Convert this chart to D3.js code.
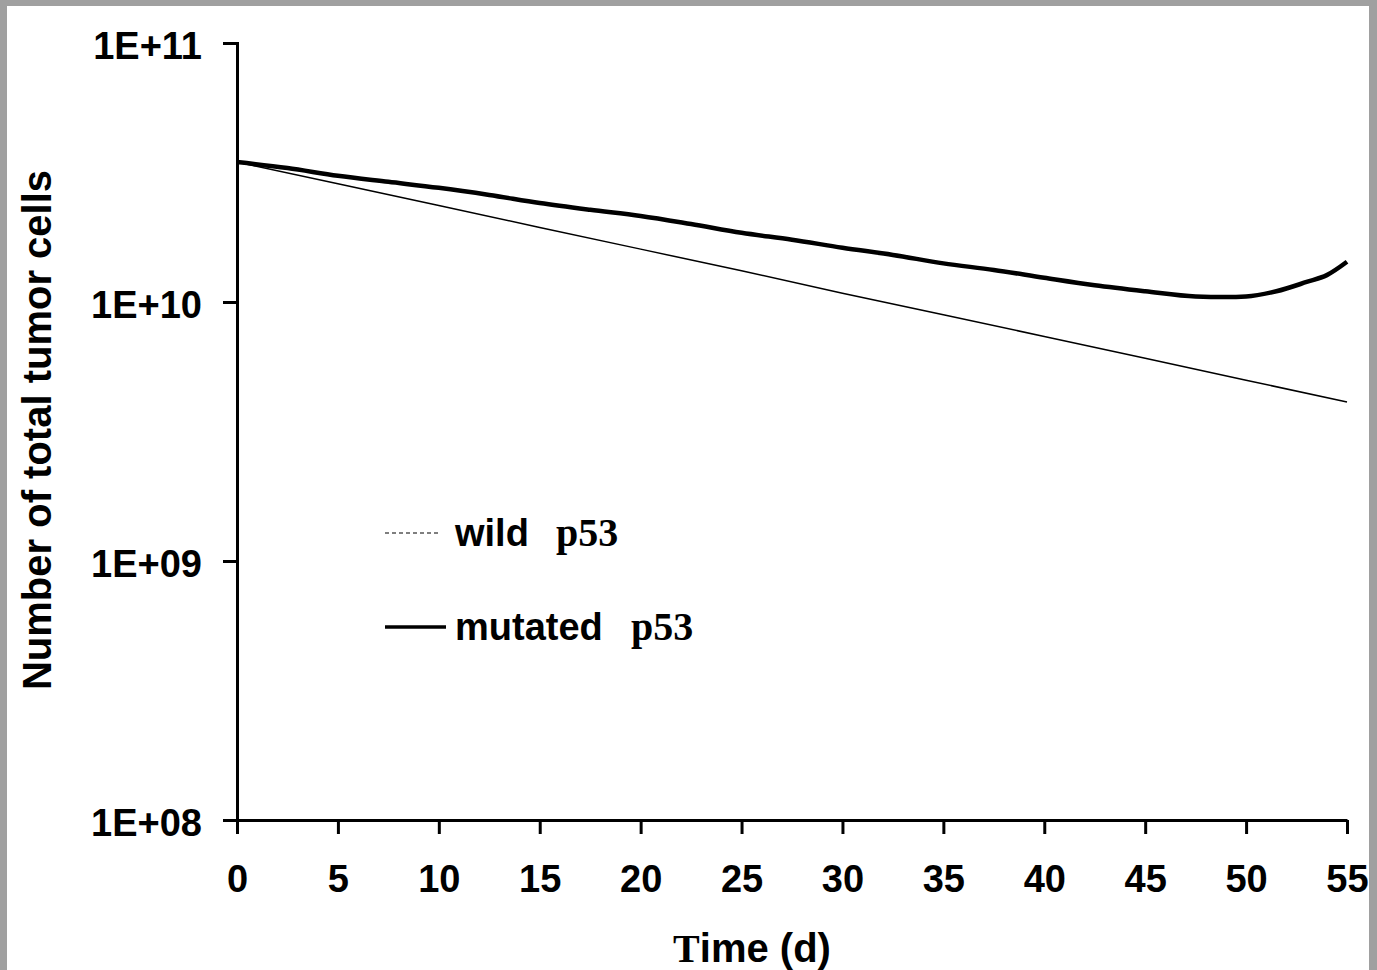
<!DOCTYPE html>
<head>
  <title>Number of total tumor cells</title>
  <style>
    body { margin: 0; background: #a0a0a0; }
    text { fill: #000; }
  </style>
</head>
<body>
  <script src="https://cdn.jsdelivr.net/npm/d3@7"></script>
  <script>
    // values
    var wildDays = [0, 5, 10, 15, 20, 25, 30, 35, 40, 45, 50, 55];
    var wildCells = [3.47e10, 2.86e10, 2.36e10, 1.94e10, 1.60e10, 1.32e10,
                     1.08e10, 8.93e9, 7.36e9, 6.06e9, 4.99e9, 4.11e9];

    var mutDays = [0, 2.5, 5, 7.5, 10, 12.5, 15, 17.5, 20, 22.5, 25, 27.5, 30,
                   32.5, 35, 37.5, 40, 42.5, 45, 47.5, 49, 50, 51.5, 53, 54, 55];
    var mutCells = [3.47e10, 3.29e10, 3.07e10, 2.91e10, 2.76e10, 2.59e10, 2.41e10,
                    2.27e10, 2.15e10, 2.00e10, 1.85e10, 1.74e10, 1.62e10, 1.52e10,
                    1.41e10, 1.33e10, 1.24e10, 1.16e10, 1.10e10, 1.05e10, 1.045e10,
                    1.05e10, 1.10e10, 1.195e10, 1.27e10, 1.43e10];

    var xTicks = [0, 5, 10, 15, 20, 25, 30, 35, 40, 45, 50, 55];
    var yTicks = [1e8, 1e9, 1e10, 1e11];
    var yTickLabels = ["1E+08", "1E+09", "1E+10", "1E+11"];

    var w = 1377, h = 970;
    var sans = "'Liberation Sans', Arial, sans-serif";
    var serif = "'Liberation Serif', 'Times New Roman', serif";

    var svg = d3.select("body").append("svg")
        .attr("width", w)
        .attr("height", h)
        .style("display", "block");

    // grey frame
    svg.append("rect").attr("width", w).attr("height", h).attr("fill", "#a0a0a0");
    svg.append("rect").attr("x", 7).attr("y", 6)
        .attr("width", 1362).attr("height", h).attr("fill", "#fff");

    var x = d3.scaleLinear().domain([0, 55]).range([237, 1347]);
    var y = d3.scaleLog().domain([1e8, 1e11]).range([820, 43]);

    var xAxis = d3.axisBottom(x).tickValues(xTicks).tickSize(14).tickSizeOuter(0).tickPadding(31);
    var yAxis = d3.axisLeft(y).tickValues(yTicks).tickSize(14).tickSizeOuter(0).tickPadding(21)
        .tickFormat(function (d, i) { return yTickLabels[i]; });

    var gx = svg.append("g")
        .attr("transform", "translate(0," + y(1e8) + ")")
        .call(xAxis);
    var gy = svg.append("g")
        .attr("transform", "translate(" + x(0) + ",0)")
        .call(yAxis);

    [gx, gy].forEach(function (g) {
      g.selectAll("path, line").attr("stroke", "#000").attr("stroke-width", 3);
      g.selectAll("text")
        .style("font-family", sans)
        .style("font-weight", "bold")
        .style("font-size", "38px")
        .attr("fill", "#000");
    });
    gy.selectAll(".tick text").attr("dy", "0.4em");
    gy.select(".domain").attr("stroke-linecap", "square");

    // lines
    var wildData = wildDays.map(function (d, i) { return [d, wildCells[i]]; });
    var mutData = mutDays.map(function (d, i) { return [d, mutCells[i]]; });

    var line = d3.line()
        .x(function (d) { return x(d[0]); })
        .y(function (d) { return y(d[1]); });
    var smooth = d3.line()
        .curve(d3.curveMonotoneX)
        .x(function (d) { return x(d[0]); })
        .y(function (d) { return y(d[1]); });

    svg.append("path")
        .datum(wildData)
        .attr("d", line)
        .attr("fill", "none")
        .attr("stroke", "#000")
        .attr("stroke-width", 1.5);

    svg.append("path")
        .datum(mutData)
        .attr("d", smooth)
        .attr("fill", "none")
        .attr("stroke", "#000")
        .attr("stroke-width", 4.5);

    // axis titles
    svg.append("text")
        .attr("transform", "translate(51,430) rotate(-90)")
        .attr("text-anchor", "middle")
        .style("font-family", sans)
        .style("font-weight", "bold")
        .style("font-size", "40px")
        .text("Number of total tumor cells");

    var tt = svg.append("text")
        .attr("x", 752)
        .attr("y", 962)
        .attr("text-anchor", "middle")
        .style("font-weight", "bold")
        .style("font-size", "40px");
    tt.append("tspan").style("font-family", serif).text("T");
    tt.append("tspan").style("font-family", sans).text("ime (d)");

    // legend
    svg.append("line")
        .attr("x1", 385).attr("x2", 440).attr("y1", 533).attr("y2", 533)
        .attr("stroke", "#000").attr("stroke-width", 1.2)
        .attr("stroke-dasharray", "4,3");
    svg.append("line")
        .attr("x1", 385).attr("x2", 446).attr("y1", 627).attr("y2", 627)
        .attr("stroke", "#000").attr("stroke-width", 3.5);

    var legend = [
      { name: "wild", y: 546, px: 556 },
      { name: "mutated", y: 640, px: 631 }
    ];
    legend.forEach(function (l) {
      svg.append("text")
          .attr("x", 455).attr("y", l.y)
          .style("font-family", sans).style("font-weight", "bold").style("font-size", "38px")
          .text(l.name);
      svg.append("text")
          .attr("x", l.px).attr("y", l.y)
          .style("font-family", serif).style("font-weight", "bold").style("font-size", "40px")
          .text("p53");
    });
  </script>
</body>
